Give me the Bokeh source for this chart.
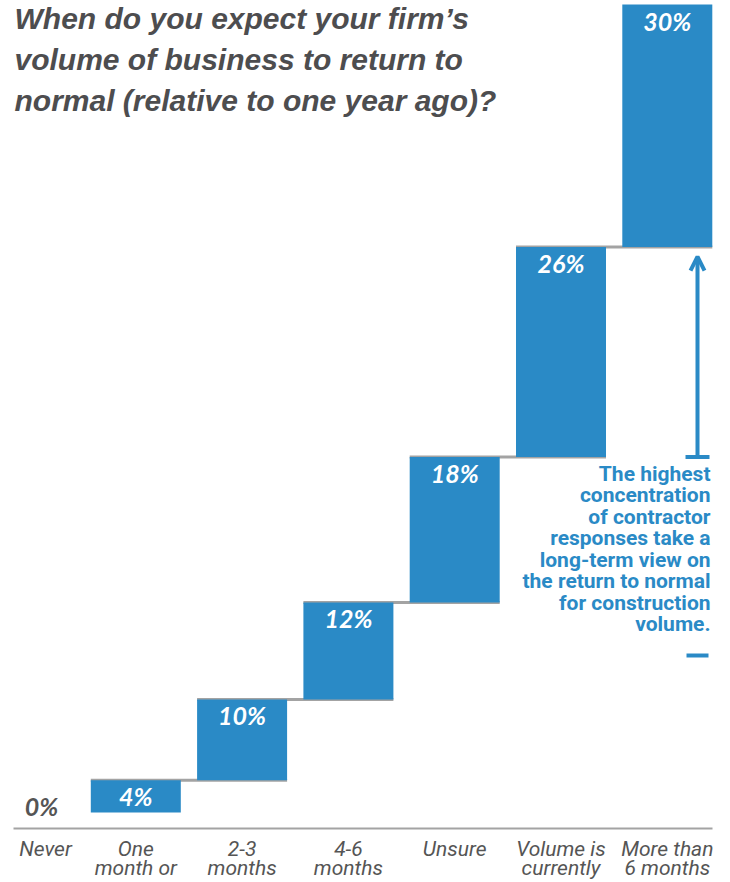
from bokeh.plotting import figure
from bokeh.models import ColumnDataSource, Range1d, Arrow, OpenHead, TeeHead
from bokeh.core.properties import value
from bokeh.embed import file_html
from bokeh.resources import INLINE

# ---------------- data ----------------
categories = ["Never", "One month or", "2-3 months", "4-6 months",
              "Unsure", "Volume is currently", "More than 6 months"]
label_line1 = ["Never", "One", "2-3", "4-6", "Unsure", "Volume is", "More than"]
label_line2 = ["", "month or", "months", "months", "", "currently", "6 months"]
values = [0, 4, 10, 12, 18, 26, 30]
title_lines = ["When do you expect your firm\u2019s",
               "volume of business to return to",
               "normal (relative to one year ago)?"]
note_lines = ["The highest", "concentration", "of contractor",
              "responses take a", "long-term view on",
              "the return to normal", "for construction", "volume."]

# ---------------- styling / layout ----------------
BLUE = "#2A8AC6"
GRAY_LINE = "#A3A3A3"
DARK = "#4D4D4F"
LABEL_GRAY = "#555555"
W, H = 730, 882
PXX = 106.3          # px per category
X0 = -29 / PXX
PXY = 8.08           # px per percentage point
BASE_IMG = 812       # pixel y of 0 %

def sx(px):
    return X0 + px / PXX

def sy(py):
    return (BASE_IMG - py) / PXY

idx = list(range(len(values)))
bottoms, tops = [], []
run = 0
for v in values:
    bottoms.append(run)
    run += v
    tops.append(run)

p = figure(width=W, height=H, output_backend="svg", toolbar_location=None,
           x_range=Range1d(X0, X0 + W / PXX),
           y_range=Range1d(sy(H), sy(0)),
           min_border=0)
p.axis.visible = False
p.grid.visible = False
p.outline_line_color = None
p.background_fill_color = "white"

BW = 90 / PXX

# connector lines (drawn under the bars)
cx0 = [i - BW / 2 for i in idx[1:-1]]
cx1 = [i + 1 + BW / 2 for i in idx[1:-1]]
cy = tops[1:-1]
p.segment(x0=cx0, y0=cy, x1=cx1, y1=cy, line_color=GRAY_LINE, line_width=3)

# baseline
p.segment(x0=[sx(13)], y0=[sy(828)], x1=[sx(712)], y1=[sy(828)],
          line_color=GRAY_LINE, line_width=2)

# bars
nz = [i for i in idx if values[i] > 0]
src = ColumnDataSource(dict(x=[idx[i] for i in nz],
                            bottom=[bottoms[i] for i in nz],
                            top=[tops[i] for i in nz],
                            lab=[f"{values[i]}%" for i in nz]))
p.vbar(x="x", bottom="bottom", top="top", width=BW, source=src,
       fill_color=BLUE, line_color=None)
p.text(x="x", y="top", text="lab", source=src, text_color="white",
       text_font=value("Lato"), text_font_style="bold italic",
       text_font_size="25px", text_align="center", text_baseline="top",
       y_offset=1)

# zero value label
zz = [i for i in idx if values[i] == 0]
p.text(x=[idx[i] for i in zz], y=[tops[i] for i in zz],
       text=[f"{values[i]}%" for i in zz], text_color=LABEL_GRAY,
       text_font=value("Lato"), text_font_style="bold italic",
       text_font_size="25px", text_align="center", text_baseline="bottom",
       x_offset=12, y_offset=8)

# category labels
for line, off in ((label_line1, 36), (label_line2, 55)):
    p.text(x=idx[1:], y=[0] * (len(idx) - 1), text=line[1:],
           text_color=LABEL_GRAY, text_font=value("Roboto"),
           text_font_style="italic", text_font_size="21px",
           text_align="center", text_baseline="alphabetic", y_offset=off)
p.text(x=[idx[0]], y=[0], text=[label_line1[0]], text_color=LABEL_GRAY,
       text_font=value("Roboto"), text_font_style="italic",
       text_font_size="21px", text_align="center",
       text_baseline="alphabetic", x_offset=16, y_offset=36)

# title
p.text(x=[sx(14)] * 3, y=[sy(18), sy(59), sy(100)], text=title_lines,
       text_color=DARK, text_font=value("Liberation Sans"),
       text_font_style="bold italic", text_font_size="30px",
       text_align="left", text_baseline="alphabetic")

# note
ny = [sy(473 + 21.5 * k) for k in range(len(note_lines))]
p.text(x=[sx(710)] * len(note_lines), y=ny, text=note_lines,
       text_color=BLUE, text_font=value("Roboto"), text_font_style="bold",
       text_font_size="21px", text_align="right", text_baseline="alphabetic")

# arrow from the Unsure level to the Volume-is-currently level
ax = sx(697)
p.add_layout(Arrow(x_start=ax, y_start=tops[4], x_end=ax, y_end=tops[5] - 1.2,
                   line_color=BLUE, line_width=4,
                   end=OpenHead(size=14, line_color=BLUE, line_width=4),
                   start=TeeHead(size=24, line_color=BLUE, line_width=4)))
p.segment(x0=[sx(686)], y0=[sy(655)], x1=[sx(708)], y1=[sy(655)],
          line_color=BLUE, line_width=4)

open("out.html", "w").write(file_html(p, INLINE))
